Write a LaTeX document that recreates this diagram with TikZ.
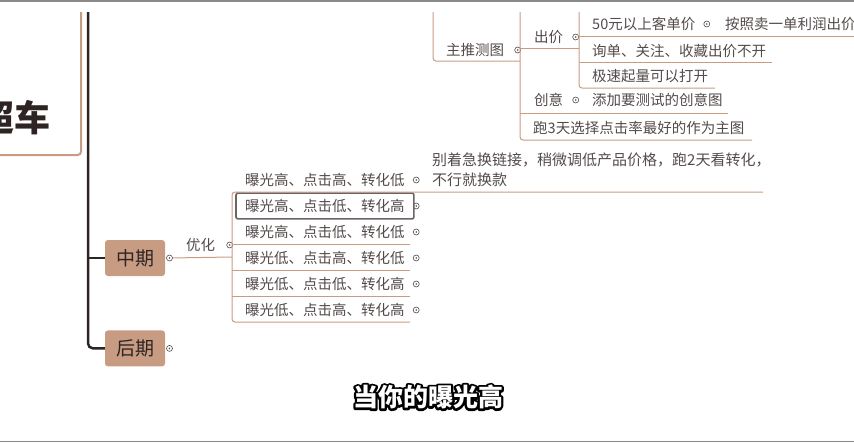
\documentclass[tikz,border=0pt]{standalone}
\usepackage{fontspec}
\setmainfont{Noto Sans CJK SC}
\usetikzlibrary{positioning, fit}

\definecolor{branch}{HTML}{C89C82}
\definecolor{trunkc}{HTML}{2E2424}
\definecolor{leaftext}{HTML}{544A4A}
\definecolor{selgray}{HTML}{6A6464}
\definecolor{framegray}{HTML}{8A8A8A}

% black rim under white letters
\newcommand\rimtext[1]{\rlap{\special{pdf:literal direct 1 Tr 4.5 w 1 j 0 0 0 RG}#1\special{pdf:literal direct 0 Tr 1 w}}#1}

\begin{document}
\begin{tikzpicture}[x=1pt, y=-1pt,
    leaf/.style ={anchor=west, inner sep=0pt, text=leaftext,
                  font=\fontsize{14.5}{20}\selectfont},
    phase/.style={fill=branch, rounded corners=3pt, minimum width=60pt,
                  minimum height=36pt, text=trunkc,
                  font=\fontsize{19}{22}\selectfont},
    knob/.style ={circle, draw=leaftext, fill=white, line width=0.6pt,
                  minimum size=6pt, inner sep=0pt,
                  path picture={\fill[leaftext] (path picture bounding box.center) circle (0.9pt);}},
    link/.style ={draw=branch, line width=1pt, rounded corners=3pt},
    trunk/.style={draw=trunkc, line width=2.5pt, rounded corners=5pt},
    selbox/.style={draw=selgray, line width=1.6pt, rounded corners=2pt}
  ]

  \useasboundingbox (0,0) rectangle (854,442);
  \draw[framegray, line width=1.5pt] (0,0.75) -- (854,0.75);
  \draw[framegray, line width=1.5pt] (0,441.25) -- (854,441.25);
  \clip (0,12) rectangle (854,438);

  % Root
  \node[inner sep=0pt, minimum width=150pt, minimum height=143pt] (root) at (6,83.5) {};
  \draw[branch, line width=2pt, rounded corners=4pt]
    (root.north east) -- (root.south east) -- (root.south west);
  \node[anchor=east, inner sep=0pt, text=trunkc,
        font=\fontsize{36}{40}\selectfont\bfseries] (roottitle) at (51,118) {超车};

  % Phases
  \node[phase] (mid) at (135,258) {中期};
  \node[phase, below=54pt of mid] (late) {后期};
  \node[knob, right=1pt of mid]  (midknob)  {};
  \node[knob, right=1pt of late] (lateknob) {};

  \coordinate (trunktop) at (88,0);
  \draw[trunk] (trunktop) |- (late.west);
  \draw[trunk] (trunktop |- mid.west) -- (mid.west);

  % Optimisation branch
  \node[leaf] (opt) at (186,245) {优化};
  \node[knob, right=11pt of opt] (optknob) {};
  \coordinate (optfork) at (232,257);
  \draw[link] (midknob) -- (optfork);

  \node[leaf] (c1) at (245,180) {曝光高、点击高、转化低};
  \node[leaf] (c2) at (245,206) {曝光高、点击低、转化高};
  \node[leaf] (c3) at (245,232) {曝光高、点击低、转化低};
  \node[leaf] (c4) at (245,258) {曝光低、点击高、转化低};
  \node[leaf] (c5) at (245,284) {曝光低、点击低、转化高};
  \node[leaf] (c6) at (245,310) {曝光低、点击高、转化高};
  \foreach \n in {c1,c2,c3,c4,c5,c6}
    \node[knob, right=8pt of \n] (\n knob) {};
  \node[selbox, fit=(c2), inner xsep=9pt, inner ysep=6pt] (c2sel) {};

  \node[leaf, align=left, font=\fontsize{15}{20}\selectfont] (note) at (432,170)
    {别着急换链接，稍微调低产品价格，跑2天看转化，\\不行就换款};

  \coordinate (bracket) at (232,192);
  \coordinate (c1end) at (763,192);
  \coordinate (c6end) at (410,322);
  \draw[link] (c1end) -- (bracket) |- (c6end);
  \foreach \y in {244,270,296}
    \draw[link] (bracket |- 0,\y) -- (c6end |- 0,\y);

  % Test picture branch
  \node[leaf] (main) at (446,50) {主推测图};
  \node[knob, right=10pt of main] (mainknob) {};
  \coordinate (mainup) at (433,0);
  \coordinate (mainfork) at (520,61);
  \draw[link] (mainup) |- (mainfork);
  \draw[link] (mainfork |- 0,0) |- (752,140);

  \node[leaf] (bid) at (534,37) {出价};
  \node[knob, right=9pt of bid] (bidknob) {};
  \coordinate (bidfork) at (579,48);
  \draw[link] (mainfork |- bidfork) -- (bidfork);
  \draw[link] (bidfork |- 0,0) |- (715,88);

  \node[leaf] (b1) at (592,24) {50元以上客单价};
  \node[knob, right=8pt of b1] (b1knob) {};
  \node[leaf] (b1a) at (725,24) {按照卖一单利润出价};
  \draw[link] (bidfork |- 0,36) -- (854,36);

  \node[leaf] (b2) at (592,51) {询单、关注、收藏出价不开};
  \draw[link] (bidfork |- 0,62) -- (772,62);
  \node[leaf] (b3) at (592,76) {极速起量可以打开};

  \node[leaf] (idea) at (534,100) {创意};
  \node[knob, right=9pt of idea] (ideaknob) {};
  \node[leaf] (ideaa) at (592,100) {添加要测试的创意图};
  \draw[link] (mainfork |- 0,113) -- (728,113);

  \node[leaf] (pick) at (533,128) {跑3天选择点击率最好的作为主图};

  % Subtitle
  \node[text=white, font=\fontsize{25}{28}\selectfont\bfseries] (caption) at (428,397)
    {\rimtext{当你的曝光高}};
\end{tikzpicture}
\end{document}
